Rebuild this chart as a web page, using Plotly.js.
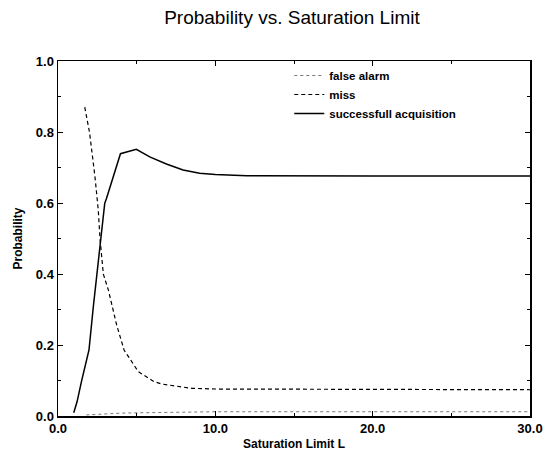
<!DOCTYPE html>
<html><head><meta charset="utf-8">
<script src="https://cdn.plot.ly/plotly-3.0.1.min.js"></script>
<style>body{margin:0;background:#fff}#c{width:554px;height:453px}</style>
</head><body><div id="c"></div>
<script>
var faX = [1.8, 2.5, 3.0, 4.0, 5.0, 6.0, 7.0, 8.0, 10.0, 12.0, 15.0, 20.0, 25.0, 30.0];
var faY = [0.003, 0.005, 0.006, 0.008, 0.009, 0.010, 0.011, 0.011, 0.012, 0.012, 0.012, 0.012, 0.012, 0.012];
var missX = [1.7, 2.0, 2.35, 2.46, 2.56, 2.67, 2.88, 3.2, 3.5, 3.73, 4.2, 4.47, 4.75, 5.1, 5.64, 6.1, 6.6, 7.6, 8.5, 10.0, 15.0, 20.0, 25.0, 30.0];
var missY = [0.87, 0.80, 0.674, 0.628, 0.58, 0.50, 0.40, 0.355, 0.30, 0.256, 0.186, 0.167, 0.146, 0.125, 0.11, 0.097, 0.09, 0.083, 0.078, 0.076, 0.075, 0.074, 0.074, 0.074];
var acqX = [1.0, 1.21, 1.49, 1.91, 1.97, 2.25, 2.57, 2.78, 2.97, 3.08, 3.97, 4.98, 5.83, 6.89, 7.95, 9.0, 10.0, 12.0, 15.0, 20.0, 25.0, 30.0];
var acqY = [0.009, 0.04, 0.097, 0.172, 0.186, 0.31, 0.44, 0.53, 0.599, 0.613, 0.739, 0.751, 0.730, 0.710, 0.693, 0.684, 0.680, 0.677, 0.676, 0.676, 0.676, 0.676];
var xTicks = [0, 10, 20, 30];
var xTickText = ["0.0", "10.0", "20.0", "30.0"];
var yTicks = [0, 0.2, 0.4, 0.6, 0.8, 1.0];
var yTickText = ["0.0", "0.2", "0.4", "0.6", "0.8", "1.0"];

var F = "Liberation Sans, Arial, sans-serif";
var traces = [
  {x: faX, y: faY, mode: "lines", name: "false alarm", line: {color: "#777", width: 1, dash: "dot"}},
  {x: missX, y: missY, mode: "lines", name: "miss", line: {color: "#000", width: 1.2, dash: "4px,3px"}},
  {x: acqX, y: acqY, mode: "lines", name: "successfull acquisition", line: {color: "#000", width: 1.5}}
];
var ax = {
  showgrid: false, zeroline: false, showline: true, mirror: "ticks", linecolor: "#000", linewidth: 1.5,
  ticks: "inside", ticklen: 5, tickcolor: "#000",
  tickfont: {family: F, size: 13, color: "#000", weight: "bold"}
};
var layout = {
  width: 554, height: 453,
  margin: {l: 58, r: 24, t: 61, b: 37},
  paper_bgcolor: "#fff", plot_bgcolor: "#fff",
  title: {text: "Probability vs. Saturation Limit", font: {family: F, size: 19, color: "#000"}, x: 0.527, xanchor: "center", y: 0.962, yanchor: "middle"},
  xaxis: Object.assign({}, ax, {range: [0, 30], tickvals: xTicks, ticktext: xTickText, minor: {ticks: "inside", ticklen: 3, tickcolor: "#000", dtick: 5, tick0: 0},
    title: {text: "Saturation Limit L", font: {family: F, size: 12, color: "#000", weight: "bold"}, standoff: 4}}),
  yaxis: Object.assign({}, ax, {range: [0, 1], tickvals: yTicks, ticktext: yTickText, minor: {ticks: "inside", ticklen: 3, tickcolor: "#000", dtick: 0.1, tick0: 0},
    title: {text: "Probability", font: {family: F, size: 12, color: "#000", weight: "bold"}, standoff: 10}}),
  showlegend: true,
  legend: {x: 0.49, y: 1.0, xanchor: "left", yanchor: "top", bgcolor: "rgba(0,0,0,0)", borderwidth: 0,
    font: {family: F, size: 11.5, color: "#000", weight: "bold"}, tracegroupgap: 0, itemwidth: 30}
};
Plotly.newPlot("c", traces, layout, {displayModeBar: false, staticPlot: true});
</script></body></html>
